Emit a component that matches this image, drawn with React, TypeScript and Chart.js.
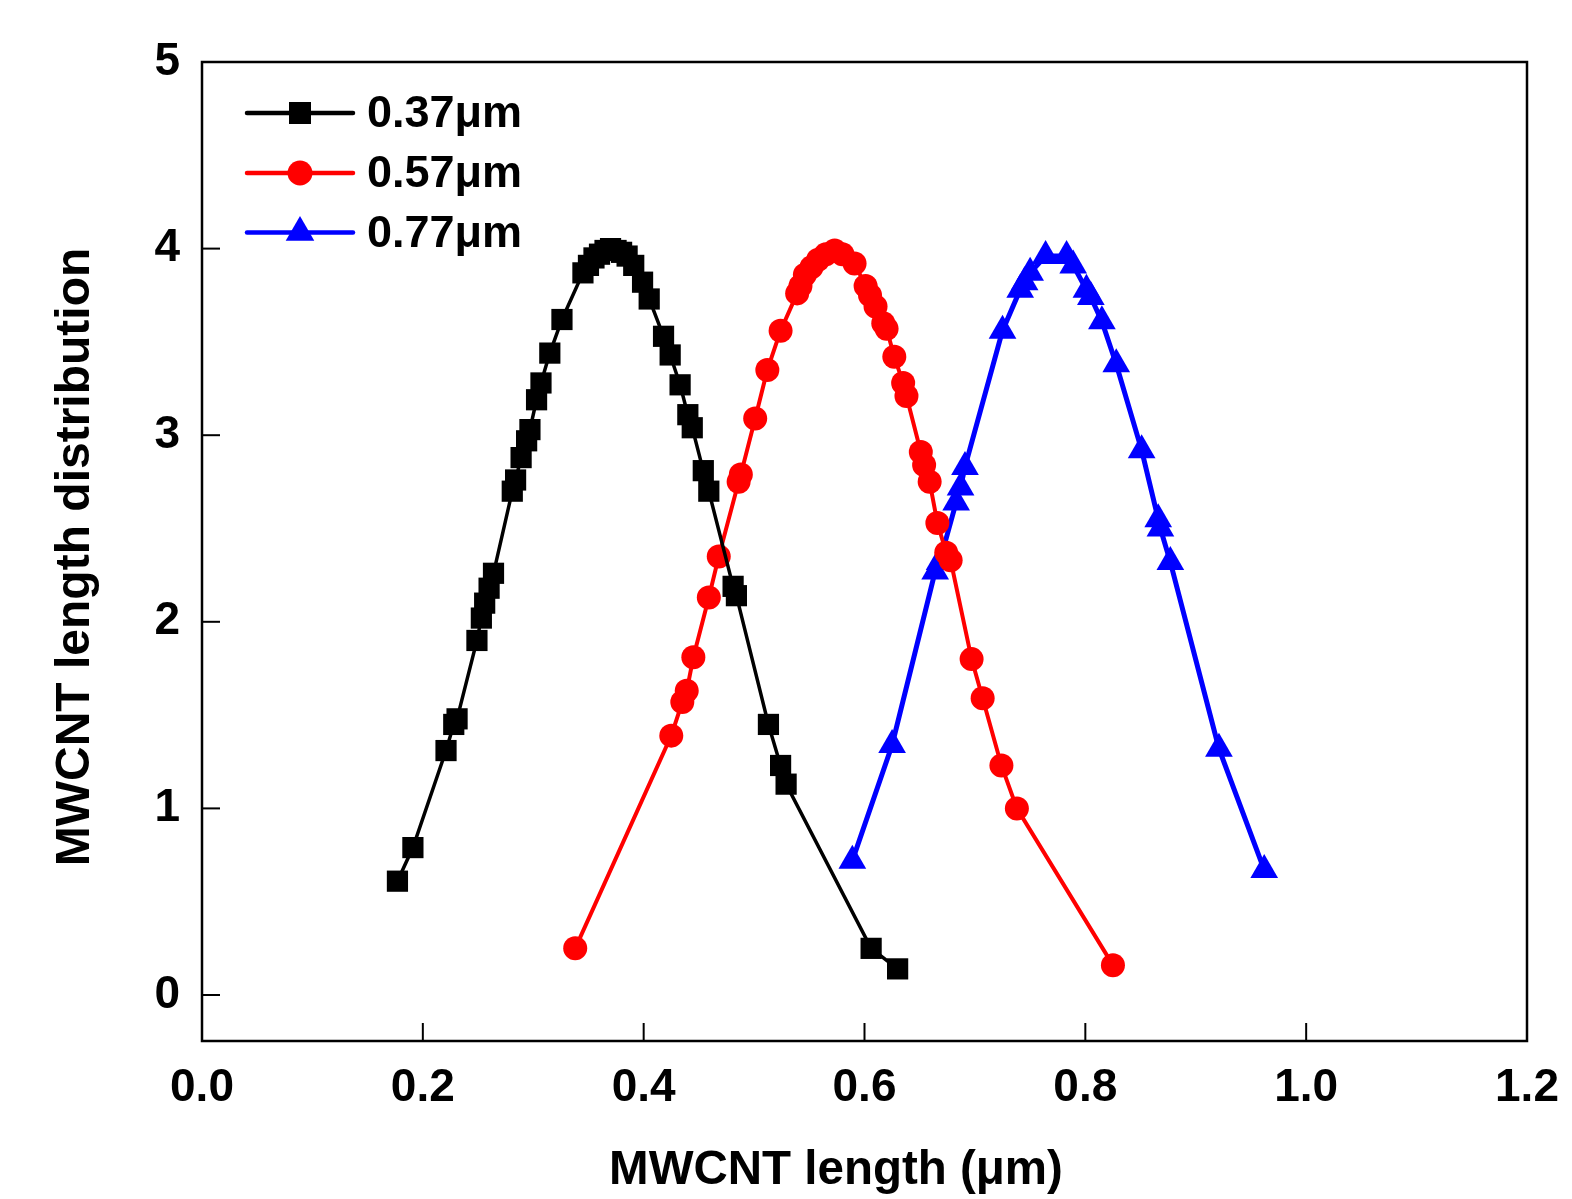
import React, { useEffect, useRef } from "react";
import { Chart, registerables } from "chart.js";

Chart.register(...registerables);

// ---- data ----
const seriesLabels = ["0.37\u03BCm", "0.57\u03BCm", "0.77\u03BCm"];

const blackX = [0.177, 0.191, 0.221, 0.228, 0.231, 0.249, 0.253, 0.256, 0.260, 0.264, 0.281, 0.284, 0.289, 0.294, 0.297, 0.303, 0.307, 0.315, 0.326, 0.345, 0.350, 0.355, 0.360, 0.365, 0.370, 0.375, 0.380, 0.385, 0.391, 0.399, 0.405, 0.418, 0.424, 0.433, 0.440, 0.444, 0.454, 0.459, 0.481, 0.484, 0.513, 0.524, 0.529, 0.606, 0.630];
const blackY = [0.61, 0.79, 1.31, 1.45, 1.48, 1.90, 2.02, 2.10, 2.18, 2.26, 2.70, 2.76, 2.88, 2.97, 3.03, 3.19, 3.28, 3.44, 3.62, 3.87, 3.91, 3.95, 3.97, 3.99, 4.00, 3.99, 3.98, 3.96, 3.91, 3.82, 3.73, 3.53, 3.43, 3.27, 3.11, 3.04, 2.81, 2.70, 2.19, 2.14, 1.45, 1.23, 1.13, 0.25, 0.14];

const redX = [0.338, 0.425, 0.435, 0.439, 0.445, 0.459, 0.468, 0.486, 0.488, 0.501, 0.512, 0.524, 0.539, 0.542, 0.546, 0.552, 0.558, 0.565, 0.573, 0.580, 0.591, 0.601, 0.605, 0.610, 0.617, 0.620, 0.627, 0.635, 0.638, 0.651, 0.654, 0.659, 0.666, 0.674, 0.678, 0.697, 0.707, 0.724, 0.738, 0.825];
const redY = [0.25, 1.39, 1.57, 1.63, 1.81, 2.13, 2.35, 2.75, 2.79, 3.09, 3.35, 3.56, 3.76, 3.80, 3.86, 3.90, 3.94, 3.97, 3.99, 3.97, 3.92, 3.80, 3.75, 3.69, 3.60, 3.57, 3.42, 3.28, 3.21, 2.91, 2.84, 2.75, 2.53, 2.37, 2.33, 1.80, 1.59, 1.23, 1.00, 0.16];

const blueX = [0.589, 0.625, 0.664, 0.668, 0.683, 0.687, 0.691, 0.725, 0.741, 0.745, 0.750, 0.764, 0.783, 0.789, 0.801, 0.805, 0.815, 0.828, 0.851, 0.866, 0.868, 0.877, 0.921, 0.962];
const blueY = [0.72, 1.34, 2.27, 2.32, 2.64, 2.72, 2.83, 3.56, 3.78, 3.82, 3.87, 3.96, 3.96, 3.91, 3.78, 3.74, 3.61, 3.38, 2.92, 2.55, 2.50, 2.32, 1.32, 0.67];

const xTicks = [0, 0.2, 0.4, 0.6, 0.8, 1.0, 1.2];
const yTicks = [0, 1, 2, 3, 4, 5];

const xTitle = "MWCNT length (\u03BCm)";
const yTitle = "MWCNT length distribution";

const FONT = "'Liberation Sans', Arial, Helvetica, sans-serif";

const toPts = (xs: number[], ys: number[]) => xs.map((x, i) => ({ x, y: ys[i] }));

const decoPlugin = {
  id: "deco",
  afterDraw(chart: any) {
    const { ctx, chartArea } = chart;
    const { left, right, top, bottom } = chartArea;
    const xs = chart.scales.x;
    const ys = chart.scales.y;
    ctx.save();
    ctx.strokeStyle = "#000";
    ctx.lineWidth = 2.5;
    ctx.strokeRect(left, top, right - left, bottom - top);
    // inward ticks
    ctx.lineWidth = 2;
    const tl = 18;
    xTicks.forEach((v) => {
      const px = xs.getPixelForValue(v);
      ctx.beginPath();
      ctx.moveTo(px, bottom);
      ctx.lineTo(px, bottom - tl);
      ctx.stroke();
    });
    yTicks.forEach((v) => {
      const py = ys.getPixelForValue(v);
      ctx.beginPath();
      ctx.moveTo(left, py);
      ctx.lineTo(left + tl, py);
      ctx.stroke();
    });
    // axis titles
    ctx.fillStyle = "#000";
    ctx.textAlign = "center";
    ctx.textBaseline = "middle";
    ctx.font = `bold 47.5px ${FONT}`;
    ctx.fillText(xTitle, 836, 1171);
    ctx.save();
    ctx.translate(76, 557);
    ctx.rotate(-Math.PI / 2);
    ctx.font = `bold 48px ${FONT}`;
    ctx.fillText(yTitle, 0, 0);
    ctx.restore();
    // legend
    const rows = [113, 173, 232.5];
    chart.data.datasets.forEach((ds: any, i: number) => {
      const y = rows[i];
      ctx.strokeStyle = ds.borderColor;
      ctx.fillStyle = ds.borderColor;
      ctx.lineWidth = 4.5;
      ctx.lineCap = "round";
      ctx.beginPath();
      ctx.moveTo(247, y);
      ctx.lineTo(353, y);
      ctx.stroke();
      const cx = 300;
      ctx.beginPath();
      if (ds.pointStyle === "rect") {
        ctx.rect(cx - 11, y - 11, 22, 22);
      } else if (ds.pointStyle === "circle") {
        ctx.arc(cx, y, 12.5, 0, Math.PI * 2);
      } else {
        const r = 16.5;
        ctx.moveTo(cx, y - r);
        ctx.lineTo(cx + r * 0.866, y + r * 0.5);
        ctx.lineTo(cx - r * 0.866, y + r * 0.5);
        ctx.closePath();
      }
      ctx.fill();
      ctx.fillStyle = "#000";
      ctx.font = `bold 45px ${FONT}`;
      ctx.textAlign = "left";
      ctx.textBaseline = "middle";
      ctx.fillText(seriesLabels[i], 367, y + 2);
    });
    ctx.restore();
  },
};

export default function App() {
  const ref = useRef<HTMLCanvasElement | null>(null);
  useEffect(() => {
    document.body.style.margin = "0";
    if (!ref.current) return;
    const chart = new Chart(ref.current, {
      type: "scatter",
      data: {
        datasets: [
          {
            label: seriesLabels[0],
            data: toPts(blackX, blackY),
            showLine: true,
            borderColor: "#000000",
            backgroundColor: "#000000",
            borderWidth: 3.5,
            pointStyle: "rect",
            pointRadius: 15,
            pointBorderWidth: 0,
          },
          {
            label: seriesLabels[1],
            data: toPts(redX, redY),
            showLine: true,
            borderColor: "#ff0000",
            backgroundColor: "#ff0000",
            borderWidth: 4,
            pointStyle: "circle",
            pointRadius: 12,
            pointBorderWidth: 0,
          },
          {
            label: seriesLabels[2],
            data: toPts(blueX, blueY),
            showLine: true,
            borderColor: "#0000ff",
            backgroundColor: "#0000ff",
            borderWidth: 5,
            pointStyle: "triangle",
            pointRadius: 16,
            pointBorderWidth: 0,
          },
        ],
      },
      options: {
        responsive: false,
        animation: false,
        layout: { padding: { left: 0, top: 62, right: 45, bottom: 0 } },
        plugins: {
          legend: { display: false },
          tooltip: { enabled: false },
        },
        scales: {
          x: {
            type: "linear",
            min: 0,
            max: 1.2,
            afterBuildTicks: (s: any) => {
              s.ticks = xTicks.map((v) => ({ value: v }));
            },
            afterFit: (s: any) => {
              s.height = 158;
              s.paddingLeft = 0;
              s.paddingRight = 0;
            },
            grid: { display: false, drawTicks: false },
            border: { display: false },
            ticks: {
              color: "#000",
              padding: 20,
              maxRotation: 0,
              font: { family: FONT, weight: "bold", size: 46 },
              callback: (v: any) => Number(v).toFixed(1),
            },
          },
          y: {
            type: "linear",
            min: -0.2465,
            max: 5,
            afterBuildTicks: (s: any) => {
              s.ticks = yTicks.map((v) => ({ value: v }));
            },
            afterFit: (s: any) => {
              s.width = 202;
              s.paddingTop = 0;
              s.paddingBottom = 0;
            },
            grid: { display: false, drawTicks: false },
            border: { display: false },
            ticks: {
              color: "#000",
              padding: 22,
              font: { family: FONT, weight: "bold", size: 46 },
              callback: (v: any) => String(v),
            },
          },
        },
      },
      plugins: [decoPlugin],
    } as any);
    return () => chart.destroy();
  }, []);
  return (
    <div style={{ position: "absolute", left: 0, top: 0, width: 1572, height: 1199, background: "#fff" }}>
      <canvas ref={ref} width={1572} height={1199} style={{ width: 1572, height: 1199, display: "block" }} />
    </div>
  );
}
